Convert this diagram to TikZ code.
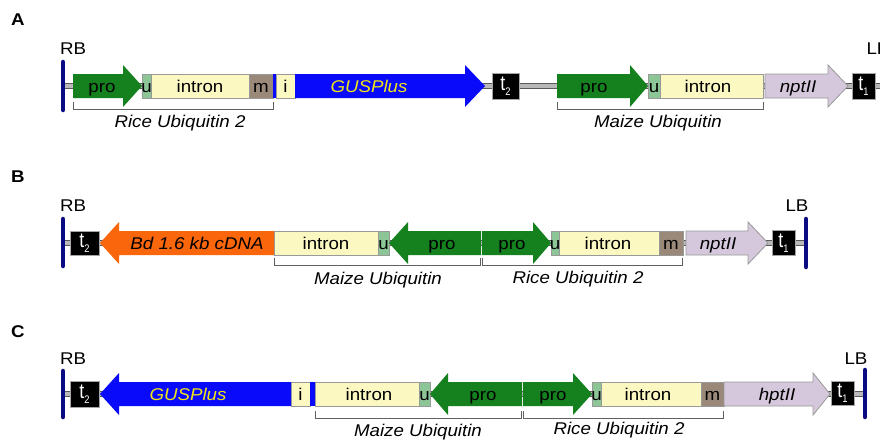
\documentclass[tikz,border=0pt]{standalone}
\usepackage{fontspec}
\setmainfont{Liberation Sans}[FakeStretch=1.1]
\newfontfamily\tfont{Liberation Sans}[FakeStretch=0.85]
\definecolor{progreen}{RGB}{20,128,30}
\definecolor{ugreen}{RGB}{140,198,150}
\definecolor{intronY}{RGB}{252,248,194}
\definecolor{mbrown}{RGB}{154,136,120}
\definecolor{gusblue}{RGB}{10,10,250}
\definecolor{cdnaorange}{RGB}{250,102,12}
\definecolor{nptlav}{RGB}{214,200,220}
\definecolor{bordernavy}{RGB}{10,10,130}
\definecolor{gusyellow}{RGB}{240,230,20}
\newcommand\GBox[4]{\path[#4] (#1,#3-12) rectangle (#2,#3+12);}
\newcommand\GRight[5]{\path[#5] (#1,#4-12) -- (#2,#4-12) -- (#2,#4-21) -- (#3,#4) -- (#2,#4+21) -- (#2,#4+12) -- (#1,#4+12) -- cycle;}
\newcommand\GLeft[5]{\path[#5] (#3,#4-12) -- (#2,#4-12) -- (#2,#4-21) -- (#1,#4) -- (#2,#4+21) -- (#2,#4+12) -- (#3,#4+12) -- cycle;}
\newcommand\TermLbl[1]{t\raisebox{-5pt}{\fontsize{11}{11}\selectfont #1}}
\tikzset{
  lbl/.style={font=\fontsize{17}{20}\selectfont, inner sep=0pt, text height=13pt, text depth=0pt},
  ilbl/.style={font=\fontsize{17}{20}\selectfont\itshape, inner sep=0pt, text height=13pt, text depth=0pt},
  panel/.style={font=\fontsize{17}{20}\selectfont\bfseries, inner sep=0pt},
  backbone/.style={fill=gray!55, draw=gray!70!black, line width=0.6pt},
  border/.style={draw=bordernavy, line width=4.5pt, line cap=round},
  prostyle/.style={fill=progreen},
  ustyle/.style={fill=ugreen, draw=gray!80, line width=0.6pt},
  intronstyle/.style={fill=intronY, draw=gray!80, line width=0.6pt},
  mstyle/.style={fill=mbrown, draw=gray!80, line width=0.6pt},
  gusstyle/.style={fill=gusblue},
  cdnastyle/.style={fill=cdnaorange},
  nptstyle/.style={fill=nptlav, draw=gray!80, line width=0.8pt},
  termbox/.style={fill=black, draw=gray!70, line width=0.6pt, minimum width=27pt, minimum height=26pt, inner sep=0pt, text=white, font=\tfont\fontsize{21}{22}\selectfont},
  brk/.style={draw=gray!75!black, line width=0.8pt},
}
\begin{document}
\begin{tikzpicture}[x=1pt,y=-1pt]
\useasboundingbox (0,0) rectangle (880,440);
\fill[white] (0,0) rectangle (880,440);

% ================= Row A =================
\node[panel] (pA) at (18,20) {A};
\node[lbl] (rbA) at (73,48) {RB};
\node[lbl] (lbA) at (878,48) {LB};
\path[backbone] (63,83.5) rectangle (880,88.5);
\draw[border] (63,62) -- (63,110);
\GRight{73}{123}{142}{86}{prostyle}
\node[lbl] (proA1) at (102,86) {pro};
\GBox{142}{151}{86}{ustyle}
\node[lbl] (uA1) at (146.5,86) {u};
\GBox{151}{249}{86}{intronstyle}
\node[lbl] (inA1) at (200,86) {intron};
\GBox{249}{273}{86}{mstyle}
\node[lbl] (mA) at (261,86) {m};
\fill[gusblue] (273,74) rectangle (276,98);
\GBox{276}{295}{86}{intronstyle}
\node[lbl] (iA) at (285.5,86) {i};
\GRight{295}{465}{485}{86}{gusstyle}
\node[ilbl, text=gusyellow] (gusA) at (369,86) {GUSPlus};
\node[termbox] (t2A) at (505.5,86) {\TermLbl{2}};
\GRight{557}{630}{648}{86}{prostyle}
\node[lbl] (proA2) at (594,86) {pro};
\GBox{648}{660}{86}{ustyle}
\node[lbl] (uA2) at (654,86) {u};
\GBox{660}{763}{86}{intronstyle}
\node[lbl] (inA2) at (708,86) {intron};
\GRight{765}{828}{848}{86}{nptstyle}
\node[ilbl] (nptA) at (798,86) {nptII};
\node[termbox, minimum width=23pt] (t1A) at (863.5,86) {\TermLbl{1}};
\draw[brk] (73,102) |- (273,109) -- (273,102);
\node[ilbl] (riceA) at (180,121) {Rice Ubiquitin 2};
\draw[brk] (557,102) |- (763,109) -- (763,102);
\node[ilbl] (maizeA) at (658,121) {Maize Ubiquitin};

% ================= Row B =================
\node[panel] (pB) at (18,177) {B};
\node[lbl] (rbB) at (73,205) {RB};
\node[lbl] (lbB) at (797,205) {LB};
\path[backbone] (63,240.5) rectangle (806,245.5);
\draw[border] (63,219) -- (63,266);
\draw[border] (806,219) -- (806,267);
\node[termbox, minimum width=29pt, minimum height=24pt] (t2B) at (84.5,243) {\TermLbl{2}};
\GLeft{100}{119}{274}{243}{cdnastyle}
\node[ilbl] (cdnaB) at (197,243) {Bd 1.6 kb cDNA};
\GBox{274}{378}{243}{intronstyle}
\node[lbl] (inB1) at (326,243) {intron};
\GBox{378}{389}{243}{ustyle}
\node[lbl] (uB1) at (383.5,243) {u};
\GLeft{389}{408}{481}{243}{prostyle}
\node[lbl] (proB1) at (442,243) {pro};
\GRight{482}{533}{551}{243}{prostyle}
\node[lbl] (proB2) at (512,243) {pro};
\GBox{551}{559}{243}{ustyle}
\node[lbl] (uB2) at (555,243) {u};
\GBox{559}{659}{243}{intronstyle}
\node[lbl] (inB2) at (608,243) {intron};
\GBox{659}{683}{243}{mstyle}
\node[lbl] (mB) at (671,243) {m};
\GRight{686}{748}{768}{243}{nptstyle}
\node[ilbl] (nptB) at (718,243) {nptII};
\node[termbox, minimum width=23pt, minimum height=25pt] (t1B) at (783.5,243) {\TermLbl{1}};
\draw[brk] (274,258) |- (480,265) -- (480,258);
\node[ilbl] (maizeB) at (378,278) {Maize Ubiquitin};
\draw[brk] (482,258) |- (682,265) -- (682,258);
\node[ilbl] (riceB) at (578,277) {Rice Ubiquitin 2};

% ================= Row C =================
\node[panel] (pC) at (18,332) {C};
\node[lbl] (rbC) at (73,358) {RB};
\node[lbl] (lbC) at (856,358) {LB};
\path[backbone] (63,391.5) rectangle (865,396.5);
\draw[border] (63,371) -- (63,417);
\draw[border] (865,370) -- (865,417);
\node[termbox, minimum width=29pt] (t2C) at (84.5,394) {\TermLbl{2}};
\GLeft{100}{119}{291}{394}{gusstyle}
\node[ilbl, text=gusyellow] (gusC) at (188,394) {GUSPlus};
\GBox{291}{310}{394}{intronstyle}
\node[lbl] (iC) at (300.5,394) {i};
\fill[gusblue] (310,382) rectangle (315,406);
\GBox{315}{419}{394}{intronstyle}
\node[lbl] (inC1) at (369,394) {intron};
\GBox{419}{430}{394}{ustyle}
\node[lbl] (uC1) at (424.5,394) {u};
\GLeft{430}{448}{522}{394}{prostyle}
\node[lbl] (proC1) at (483,394) {pro};
\GRight{523}{573}{592}{394}{prostyle}
\node[lbl] (proC2) at (553,394) {pro};
\GBox{592}{601}{394}{ustyle}
\node[lbl] (uC2) at (596.5,394) {u};
\GBox{601}{701}{394}{intronstyle}
\node[lbl] (inC2) at (648,394) {intron};
\GBox{701}{724}{394}{mstyle}
\node[lbl] (mC) at (712.5,394) {m};
\GRight{724}{813}{830}{394}{nptstyle}
\node[ilbl] (hptC) at (777,394) {hptII};
\node[termbox, minimum width=23pt, minimum height=24pt] (t1C) at (842.5,393) {\TermLbl{1}};
\draw[brk] (315,411) |- (521,418) -- (521,411);
\node[ilbl] (maizeC) at (418,430) {Maize Ubiquitin};
\draw[brk] (523,411) |- (723,418) -- (723,411);
\node[ilbl] (riceC) at (619,428) {Rice Ubiquitin 2};
\end{tikzpicture}
\end{document}
